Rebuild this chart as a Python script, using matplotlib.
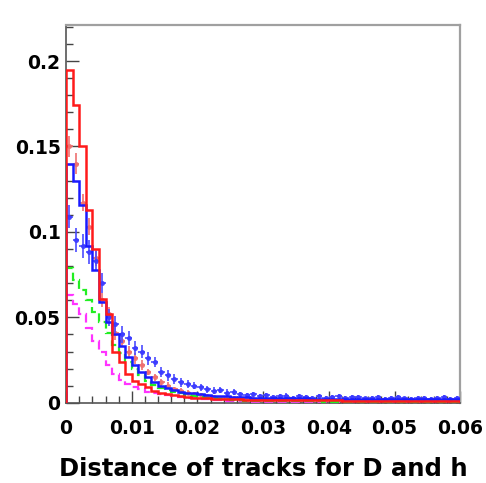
"""Track-distance distributions for D and h, ROOT-style step histograms."""

import matplotlib as mpl
import numpy as np

mpl.use("Agg")
import matplotlib.pyplot as plt
from matplotlib.ticker import MultipleLocator

# bin edges: 60 bins of width 0.001 from 0 to 0.06
x_lo, x_hi, n_bins = 0.0, 0.06, 60

red_line = [
    0.195, 0.174, 0.150, 0.113, 0.090, 0.061, 0.052, 0.030, 0.024, 0.017,
    0.013, 0.011, 0.009, 0.007, 0.006, 0.005, 0.0045, 0.004, 0.0035, 0.003,
    0.003, 0.0027, 0.0025, 0.0023, 0.0022, 0.002, 0.002, 0.0019, 0.0019, 0.0018,
    0.0018, 0.0017, 0.0017, 0.0016, 0.0016, 0.0016, 0.0015, 0.0015, 0.0015, 0.0014,
    0.0014, 0.0014, 0.0013, 0.0013, 0.0013, 0.0012, 0.0012, 0.0012, 0.0012, 0.0011,
    0.0011, 0.0011, 0.0011, 0.0010, 0.0010, 0.0010, 0.0010, 0.0010, 0.0009, 0.0009,
]
red_pts = [
    0.150, 0.140, 0.117, 0.103, 0.085, 0.060, 0.052, 0.041, 0.036, 0.030,
    0.026, 0.022, 0.018, 0.015, 0.012, 0.010, 0.008, 0.007, 0.006, 0.005,
    0.0045, 0.004, 0.0035, 0.003, 0.003, 0.0028, 0.0025, 0.0022, 0.0025, 0.002,
    0.0018, 0.0022, 0.0015, 0.002, 0.0018, 0.0013, 0.0016, 0.0019, 0.0012, 0.0015,
    0.0017, 0.0011, 0.0014, 0.0016, 0.001, 0.0013, 0.0015, 0.0011, 0.0009, 0.0014,
    0.0012, 0.0008, 0.0013, 0.001, 0.0012, 0.0009, 0.0011, 0.0013, 0.0008, 0.001,
]
red_err = [
    0.006, 0.006, 0.005, 0.005, 0.005, 0.004, 0.004, 0.004, 0.003, 0.003,
    0.003, 0.003, 0.002, 0.002, 0.002, 0.002, 0.0015, 0.0015, 0.0015, 0.0012,
    0.0012, 0.001, 0.001, 0.001, 0.001, 0.001, 0.0009, 0.0009, 0.0009, 0.0008,
    0.0008, 0.0008, 0.0008, 0.0008, 0.0007, 0.0007, 0.0007, 0.0007, 0.0007, 0.0007,
    0.0007, 0.0006, 0.0006, 0.0006, 0.0006, 0.0006, 0.0006, 0.0006, 0.0006, 0.0006,
    0.0006, 0.0005, 0.0005, 0.0005, 0.0005, 0.0005, 0.0005, 0.0005, 0.0005, 0.0005,
]
blue_line = [
    0.140, 0.130, 0.116, 0.092, 0.078, 0.059, 0.047, 0.040, 0.033, 0.027,
    0.022, 0.018, 0.015, 0.012, 0.010, 0.0085, 0.0075, 0.0065, 0.006, 0.0055,
    0.005, 0.0045, 0.0042, 0.004, 0.0037, 0.0035, 0.0033, 0.0032, 0.003, 0.003,
    0.0029, 0.0028, 0.0028, 0.0027, 0.0027, 0.0026, 0.0026, 0.0025, 0.0025, 0.0025,
    0.0024, 0.0024, 0.0024, 0.0023, 0.0023, 0.0023, 0.0022, 0.0022, 0.0022, 0.0022,
    0.0021, 0.0021, 0.0021, 0.0021, 0.002, 0.002, 0.002, 0.002, 0.002, 0.002,
]
blue_pts = [
    0.109, 0.095, 0.092, 0.088, 0.083, 0.070, 0.050, 0.046, 0.040, 0.038,
    0.032, 0.030, 0.026, 0.024, 0.018, 0.016, 0.014, 0.012, 0.011, 0.010,
    0.009, 0.008, 0.007, 0.0075, 0.006, 0.0065, 0.005, 0.0045, 0.005, 0.004,
    0.0045, 0.0035, 0.004, 0.0042, 0.003, 0.0038, 0.0035, 0.003, 0.0042, 0.0028,
    0.0033, 0.0038, 0.0027, 0.0032, 0.0036, 0.0026, 0.003, 0.0034, 0.0025, 0.0028,
    0.0033, 0.0026, 0.0024, 0.003, 0.0027, 0.0023, 0.0029, 0.0034, 0.0025, 0.0027,
]
blue_err = [
    0.007, 0.007, 0.007, 0.007, 0.006, 0.006, 0.005, 0.005, 0.005, 0.004,
    0.004, 0.004, 0.004, 0.003, 0.003, 0.003, 0.003, 0.0025, 0.0025, 0.0022,
    0.002, 0.002, 0.002, 0.0018, 0.0018, 0.0017, 0.0016, 0.0015, 0.0015, 0.0014,
    0.0014, 0.0013, 0.0013, 0.0013, 0.0012, 0.0012, 0.0012, 0.0012, 0.0012, 0.0011,
    0.0011, 0.0011, 0.0011, 0.0011, 0.0011, 0.001, 0.001, 0.001, 0.001, 0.001,
    0.001, 0.001, 0.001, 0.001, 0.001, 0.001, 0.001, 0.001, 0.001, 0.001,
]
green_line = [
    0.079, 0.072, 0.066, 0.060, 0.053, 0.047, 0.041, 0.034, 0.029, 0.024,
    0.020, 0.016, 0.013, 0.0105, 0.0088, 0.0076, 0.0065, 0.0055, 0.0047, 0.004,
    0.0034, 0.003, 0.0026, 0.0022, 0.002, 0.0017, 0.0015, 0.0013, 0.0012, 0.001,
    0.001, 0.001, 0.0009, 0.0009, 0.0009, 0.0008, 0.0008, 0.0008, 0.0008, 0.0007,
    0.0007, 0.0007, 0.0007, 0.0006, 0.0006, 0.0006, 0.0006, 0.0006, 0.0005, 0.0005,
    0.0005, 0.0005, 0.0005, 0.0005, 0.0004, 0.0004, 0.0004, 0.0004, 0.0004, 0.0004,
]
magenta_line = [
    0.063, 0.058, 0.052, 0.044, 0.036, 0.030, 0.022, 0.017, 0.0135, 0.011,
    0.0094, 0.008, 0.0065, 0.0058, 0.005, 0.0045, 0.004, 0.0035, 0.003, 0.0028,
    0.0025, 0.002, 0.0017, 0.0014, 0.0012, 0.001, 0.0009, 0.0008, 0.0007, 0.0006,
    0.0006, 0.0005, 0.0005, 0.0005, 0.0004, 0.0004, 0.0004, 0.0004, 0.0003, 0.0003,
    0.0003, 0.0003, 0.0003, 0.0003, 0.0002, 0.0002, 0.0002, 0.0002, 0.0002, 0.0002,
    0.0002, 0.0002, 0.0002, 0.0002, 0.0002, 0.0002, 0.0002, 0.0002, 0.0002, 0.0002,
]

x_ticks = [0.0, 0.01, 0.02, 0.03, 0.04, 0.05, 0.06]
x_tick_labels = ["0", "0.01", "0.02", "0.03", "0.04", "0.05", "0.06"]
y_ticks = [0.0, 0.05, 0.1, 0.15, 0.2]
y_tick_labels = ["0", "0.05", "0.1", "0.15", "0.2"]
x_label = "Distance of tracks for D and h"

plt.rcParams["font.family"] = ["DejaVu Sans"]

edges = np.linspace(x_lo, x_hi, n_bins + 1)
centers = 0.5 * (edges[:-1] + edges[1:])
half_w = 0.5 * (edges[1] - edges[0])

fig = plt.figure(figsize=(4.86, 4.83), dpi=100)
ax = fig.add_axes([0.136, 0.166, 0.811, 0.782])

# points with error bars (drawn underneath the solid histograms)
ax.errorbar(centers, red_pts, yerr=red_err, xerr=half_w, fmt="o", ms=2.6,
            color="#ee7070", ecolor="#ee7070", elinewidth=1.4, capsize=0,
            alpha=0.85, zorder=2)
ax.errorbar(centers, blue_pts, yerr=blue_err, xerr=half_w, fmt="o", ms=2.6,
            color="#3a3aff", ecolor="#4a4aff", elinewidth=1.4, capsize=0,
            alpha=0.85, zorder=3)

ax.stairs(magenta_line, edges, color="#ff33ff", lw=1.6, ls=(0, (4, 2)), zorder=4)
ax.stairs(green_line, edges, color="#22ee22", lw=1.6, ls=(0, (4, 2)), zorder=4)
ax.stairs(blue_line, edges, color="#1a1aff", lw=1.8, zorder=5)
ax.stairs(red_line, edges, color="#ff1a1a", lw=1.8, zorder=6)

ax.set_xlim(x_lo, x_hi)
ax.set_ylim(0, 0.221)
ax.set_xticks(x_ticks, x_tick_labels)
ax.set_yticks(y_ticks, y_tick_labels)
ax.xaxis.set_minor_locator(MultipleLocator(0.002))
ax.yaxis.set_minor_locator(MultipleLocator(0.01))
ax.tick_params(which="both", direction="in", top=False, right=False,
               labelsize=13.5, color="#444444")
ax.tick_params(which="major", length=9, width=1)
ax.tick_params(which="minor", length=5, width=1)
ax.tick_params(axis="x", pad=12)
ax.tick_params(axis="y", pad=4)
for lbl in ax.get_xticklabels() + ax.get_yticklabels():
    lbl.set_fontweight("bold")

for side in ("top", "right"):
    ax.spines[side].set_color("#a0a0a0")
    ax.spines[side].set_linewidth(1.6)
for side in ("left", "bottom"):
    ax.spines[side].set_color("#555555")
    ax.spines[side].set_linewidth(1.2)

ax.set_xlabel(x_label, fontsize=17.5, fontweight="bold", labelpad=13)

fig.savefig("out.png", dpi=100)
plt.close(fig)
